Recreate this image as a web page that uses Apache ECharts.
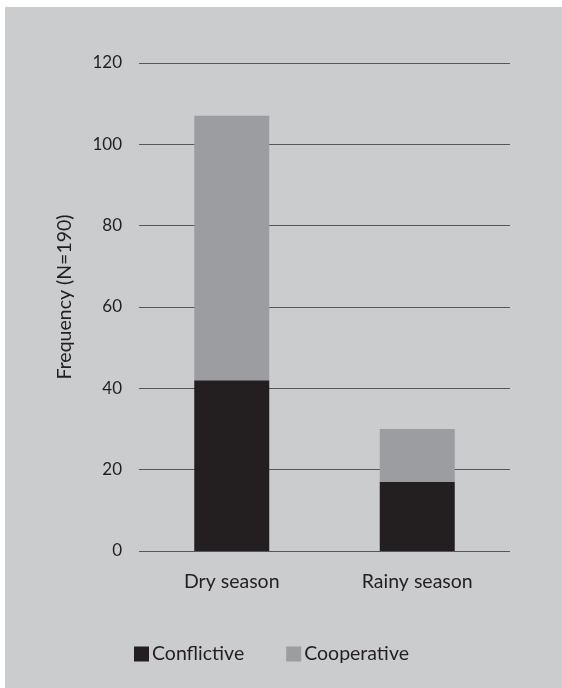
<!DOCTYPE html>
<html>
<head>
<meta charset="utf-8">
<style>
html,body{margin:0;padding:0;background:#ffffff;}
#chart{width:562px;height:688px;}
</style>
<script src="https://cdn.jsdelivr.net/npm/echarts@6/dist/echarts.min.js"></script>
</head>
<body>
<div id="chart"></div>
<script>
var categories = ['Dry season', 'Rainy season'];
var conflictive = [42, 17];
var cooperative = [65, 13];
var yTicks = [0, 20, 40, 60, 80, 100, 120];
var yAxisTitle = 'Frequency (N=190)';
var seriesNames = ['Conflictive', 'Cooperative'];

var FONT = 'Lato, "DejaVu Sans", sans-serif';
var TEXT = '#231f20';
var chart = echarts.init(document.getElementById('chart'), null, {renderer: 'canvas'});
chart.setOption({
  backgroundColor: '#ffffff',
  animation: false,
  graphic: [{
    type: 'rect', z: -10, silent: true,
    shape: {x: 5, y: 7, width: 557, height: 681},
    style: {fill: '#cbccce'}
  }],
  grid: {left: 139, right: 52, top: 63, bottom: 137, containLabel: false},
  legend: {
    data: seriesNames,
    left: 134, top: 644, padding: 0,
    itemWidth: 15, itemHeight: 15, itemGap: 42,
    icon: 'rect',
    textStyle: {fontFamily: FONT, fontSize: 19.5, color: TEXT, padding: [0, 0, 0, -2]}
  },
  xAxis: {
    type: 'category',
    data: categories,
    axisLine: {show: false},
    axisTick: {show: false},
    axisLabel: {fontFamily: FONT, fontSize: 19.5, color: TEXT, margin: 21}
  },
  yAxis: {
    type: 'value',
    min: yTicks[0], max: yTicks[yTicks.length - 1], interval: 20,
    name: yAxisTitle,
    nameLocation: 'middle',
    nameGap: 64,
    nameRotate: 90,
    nameTextStyle: {fontFamily: FONT, fontSize: 19.5, color: TEXT, padding: [0, 0, 0, 20]},
    axisLine: {show: false},
    axisTick: {show: false},
    axisLabel: {fontFamily: FONT, fontSize: 17, color: TEXT, margin: 17},
    splitLine: {lineStyle: {color: '#56575a', width: 1}}
  },
  series: [{
    name: seriesNames[0], type: 'bar', stack: 'total', barWidth: 75,
    data: conflictive,
    itemStyle: {color: '#231f20'}
  }, {
    name: seriesNames[1], type: 'bar', stack: 'total', barWidth: 75,
    data: cooperative,
    itemStyle: {color: '#9c9da1'}
  }]
});
</script>
</body>
</html>
